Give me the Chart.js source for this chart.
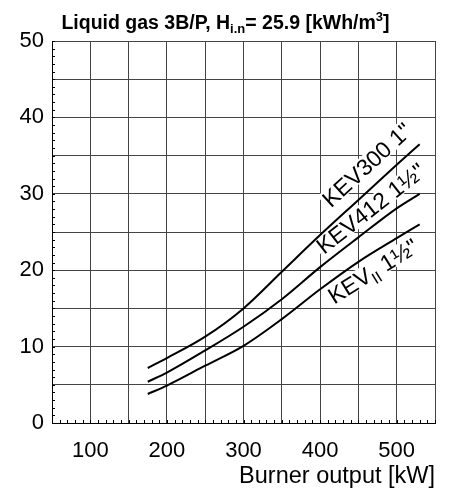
<!DOCTYPE html>
<html>
<head>
<meta charset="utf-8">
<script src="https://cdn.jsdelivr.net/npm/chart.js@4.4.1/dist/chart.umd.min.js"></script>
<style>
  html, body { margin: 0; padding: 0; background: #fff; }
</style>
</head>
<body>
<canvas id="myChart" width="451" height="494"></canvas>
<script>
// values
const burnerOutput = [175, 200, 250, 300, 350, 400, 450, 500, 530];
const kev300 = [7.2, 8.5, 11.3, 15.0, 19.8, 24.6, 29.2, 33.8, 36.5];
const kev412 = [5.4, 6.6, 9.5, 12.6, 16.2, 20.4, 24.3, 28.1, 30.0];
const kevII = [3.8, 4.9, 7.5, 10.1, 13.6, 17.5, 21.1, 24.2, 26.0];
const xTickLabels = [100, 200, 300, 400, 500];
const yTickLabels = [0, 10, 20, 30, 40, 50];

const FONT = "'Liberation Sans', Arial, Helvetica, sans-serif";

// text parts: [text, kind] kind 0 = normal, 1 = subscript, 2 = superscript
const titleParts = [['Liquid gas 3B/P, H', 0], ['i.n', 1], ['= 25.9 [kWh/m', 0], ['3', 2], [']', 0]];
const curveLabels = [
    {x: 461, y: 33.8, angle: -42.5, parts: [['KEV300 1"', 0]]},
    {x: 466, y: 28.1, angle: -38, parts: [['KEV412 1½"', 0]]},
    {x: 469, y: 19.9, angle: -32, parts: [['KEV', 0], ['II', 1], [' 1½"', 0]]}
];

function makeSeries(vals){
    return burnerOutput.map((x, i) => ({x: x, y: vals[i]}));
}

function fontFor(kind, size, weight){
    return weight + ' ' + (kind === 0 ? size : Math.round(size * 0.68)) + 'px ' + FONT;
}

function richWidth(ctx, parts, size, weight){
    let w = 0;
    parts.forEach(p => { ctx.font = fontFor(p[1], size, weight); w += ctx.measureText(p[0]).width; });
    return w;
}

function richText(ctx, parts, x, y, size, weight){
    let cx = x - richWidth(ctx, parts, size, weight) / 2;
    ctx.textAlign = 'left';
    parts.forEach(p => {
        ctx.font = fontFor(p[1], size, weight);
        const dy = p[1] === 1 ? size * 0.22 : (p[1] === 2 ? -size * 0.4 : 0);
        ctx.fillText(p[0], cx, y + dy);
        cx += ctx.measureText(p[0]).width;
    });
}

const extras = {
    id: 'extras',
    beforeDatasetsDraw(chart){
        // curve labels, under the lines
        const {ctx, scales: {x, y}} = chart;
        curveLabels.forEach(l => {
            ctx.save();
            ctx.translate(x.getPixelForValue(l.x), y.getPixelForValue(l.y));
            ctx.rotate(l.angle * Math.PI / 180);
            ctx.textBaseline = 'alphabetic';
            const w = richWidth(ctx, l.parts, 23, 'normal');
            ctx.fillStyle = '#fff';
            ctx.fillRect(-w / 2 - 2, -10, w + 4, 19);
            ctx.fillStyle = '#000';
            richText(ctx, l.parts, 0, 8, 23, 'normal');
            ctx.restore();
        });
    },
    afterDraw(chart){
        const {ctx, scales: {x, y}, chartArea: a} = chart;
        ctx.save();
        // minor ticks
        ctx.strokeStyle = '#000';
        ctx.lineWidth = 1;
        ctx.beginPath();
        for (let v = 0; v <= 50; v++) {
            const py = Math.round(y.getPixelForValue(v)) + 0.5;
            ctx.moveTo(a.left, py); ctx.lineTo(a.left + 3, py);
        }
        for (let v = 50; v <= 550; v += 10) {
            const px = Math.round(x.getPixelForValue(v)) + 0.5;
            ctx.moveTo(px, a.bottom); ctx.lineTo(px, a.bottom - 3);
        }
        ctx.stroke();

        // title
        ctx.fillStyle = '#000';
        ctx.textBaseline = 'alphabetic';
        richText(ctx, titleParts, chart.width / 2, 29, 19.5, 'bold');
        ctx.restore();
    }
};

const gridColor = '#444';

let myChart = new Chart(document.getElementById('myChart').getContext('2d'), {
    type: 'line',
    data: {
        datasets: [
            {label: 'KEV300 1"', data: makeSeries(kev300)},
            {label: 'KEV412 1½"', data: makeSeries(kev412)},
            {label: 'KEV II 1½"', data: makeSeries(kevII)}
        ].map(ds => Object.assign(ds, {
            borderColor: '#000',
            borderWidth: 2,
            pointRadius: 0,
            fill: false,
            cubicInterpolationMode: 'monotone'
        }))
    },
    options: {
        responsive: false,
        animation: false,
        devicePixelRatio: 1,
        layout: {padding: {top: 41, right: 16, left: 0, bottom: 0}},
        plugins: {legend: {display: false}, tooltip: {enabled: false}, title: {display: false}},
        scales: {
            x: {
                type: 'linear', min: 50, max: 550,
                afterFit: s => { s.height = 71; },
                ticks: {
                    stepSize: 50, autoSkip: false, maxRotation: 0, padding: 15,
                    color: '#000', font: {family: FONT, size: 22},
                    callback: v => xTickLabels.includes(v) ? v : ''
                },
                grid: {color: gridColor, drawTicks: false, lineWidth: 1},
                border: {color: '#000', width: 1},
                title: {
                    display: true, text: 'Burner output [kW]', align: 'end',
                    color: '#000', font: {family: FONT, size: 23.5}, padding: {top: 3, bottom: 3}
                }
            },
            y: {
                min: 0, max: 50,
                afterFit: s => { s.width = 52; },
                ticks: {
                    stepSize: 5, padding: 8, color: '#000', font: {family: FONT, size: 22},
                    callback: v => yTickLabels.includes(v) ? v : ''
                },
                grid: {color: gridColor, drawTicks: false, lineWidth: 1},
                border: {color: '#000', width: 1}
            }
        }
    },
    plugins: [extras]
});
</script>
</body>
</html>
